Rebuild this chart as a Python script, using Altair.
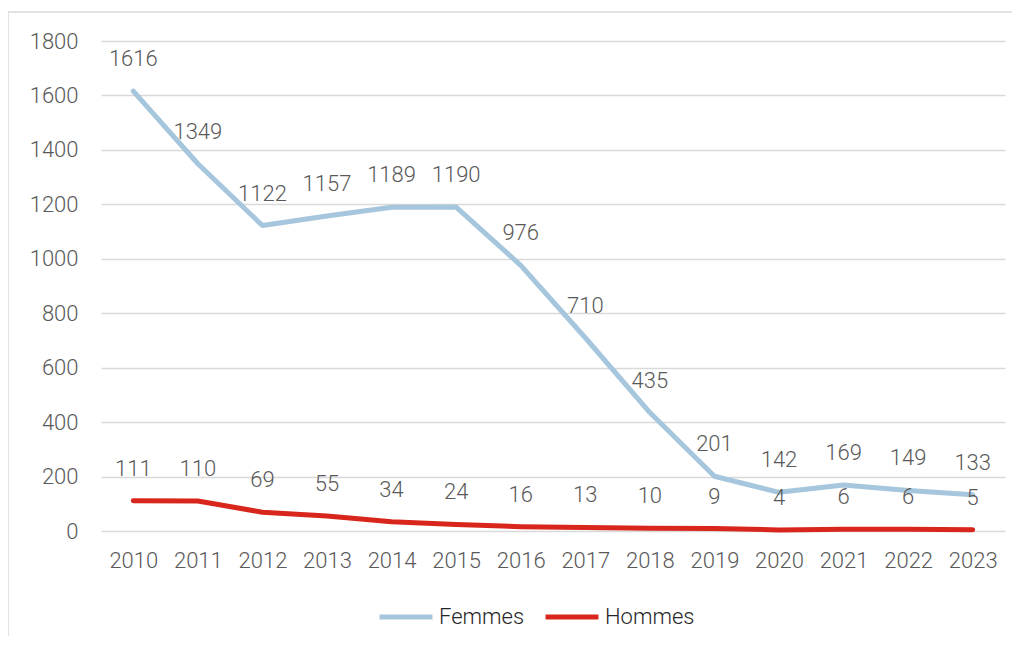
import altair as alt
import pandas as pd

years = [str(y) for y in range(2010, 2024)]
femmes = [1616, 1349, 1122, 1157, 1189, 1190, 976, 710, 435, 201, 142, 169, 149, 133]
hommes = [111, 110, 69, 55, 34, 24, 16, 13, 10, 9, 4, 6, 6, 5]
series = ["Femmes", "Hommes"]
colors = ["#A5C6DC", "#D9261C"]

rows = []
for y, v in zip(years, femmes):
    rows.append({"year": y, "value": v, "serie": "Femmes"})
for y, v in zip(years, hommes):
    rows.append({"year": y, "value": v, "serie": "Hommes"})
df = pd.DataFrame(rows)

FONT = "Roboto"
TXT = "#595959"
FS = 22

x = alt.X("year:N", title=None, sort=years,
          scale=alt.Scale(paddingInner=0, paddingOuter=0.5),
          axis=alt.Axis(labelAngle=0, ticks=False, domain=False, grid=False,
                        labelPadding=19, labelFontSize=FS, labelColor=TXT,
                        labelFont=FONT, labelFontWeight=300))
y = alt.Y("value:Q", title=None,
          scale=alt.Scale(domain=[0, 1800], nice=False),
          axis=alt.Axis(values=list(range(0, 1801, 200)), format="d", ticks=False,
                        domain=False, gridColor="#D9D9D9", gridWidth=1.5,
                        labelPadding=23, labelFontSize=FS, labelColor=TXT,
                        labelFont=FONT, labelFontWeight=300))
color = alt.Color("serie:N", sort=series,
                  scale=alt.Scale(domain=series, range=colors),
                  legend=alt.Legend(title=None, orient="none", direction="horizontal",
                                    legendX=276, legendY=547,
                                    symbolType="stroke", symbolSize=2800,
                                    symbolStrokeWidth=5, labelFontSize=FS,
                                    labelColor="#262626", labelFont=FONT,
                                    labelFontWeight=300, columnPadding=10,
                                    labelOffset=4))

base = alt.Chart(df)
lines = base.mark_line(strokeWidth=5, strokeCap="round", strokeJoin="round").encode(
    x=x, y=y, color=color, order=alt.Order("year:N"))
labels = base.mark_text(dy=-32, fontSize=FS, color=TXT, font=FONT, fontWeight=300).encode(
    x=alt.X("year:N", sort=years), y="value:Q", text="value:Q")

frame_top = alt.Chart(pd.DataFrame({"k": [0]})).mark_rule(
    color="#D9D9D9", strokeWidth=1.5, clip=False).encode(
    x=alt.value(-93), x2=alt.value(911), y=alt.value(-29))
frame_left = alt.Chart(pd.DataFrame({"k": [0]})).mark_rule(
    color="#D9D9D9", strokeWidth=1.5, clip=False).encode(
    x=alt.value(-93), y=alt.value(-29), y2=alt.value(620))

chart = alt.layer(frame_top, frame_left, lines, labels).properties(
    width=904, height=490,
    autosize=alt.AutoSizeParams(type="none"),
    padding={"left": 93, "top": 33, "right": 8, "bottom": 105},
).configure(font=FONT).configure_view(stroke=None)

chart.save("out.html", embed_options={"renderer": "svg", "actions": False})
